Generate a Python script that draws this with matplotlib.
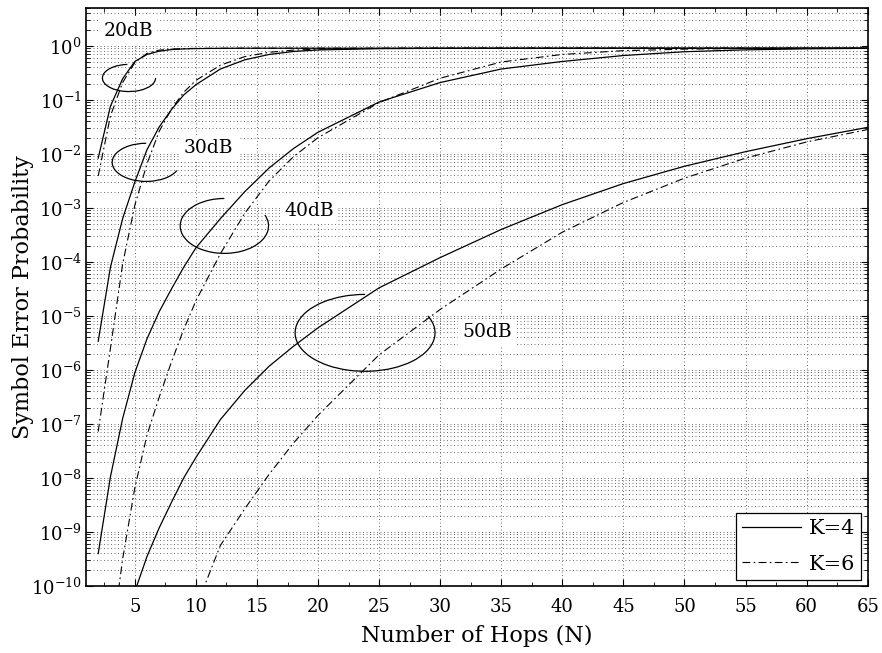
import numpy as np
import matplotlib
matplotlib.use("Agg")
import matplotlib.pyplot as plt
from matplotlib.patches import Arc
from matplotlib.lines import Line2D
from matplotlib.ticker import LogLocator, MultipleLocator, NullFormatter

plt.rcParams["font.family"] = ["DejaVu Serif"]
plt.rcParams["mathtext.fontset"] = "dejavuserif"

nan = np.nan

# number of hops
hops = [2, 3, 4, 5, 6, 7, 8, 9, 10, 12, 14, 16, 18, 20, 25, 30, 35, 40, 45, 50, 55, 60, 65]

# log10 of the symbol error probability (nan = off the plot)
ser_20db_k4 = [-2.08, -1.12, -0.61, -0.29, -0.16, -0.10, -0.07, -0.058, -0.052, -0.047, -0.045, -0.045,
               -0.045, -0.045, -0.045, -0.045, -0.045, -0.045, -0.045, -0.045, -0.045, -0.045, -0.045]
ser_20db_k6 = [-2.41, -1.30, -0.68, -0.31, -0.14, -0.08, -0.06, -0.052, -0.048, -0.046, -0.045, -0.045,
               -0.045, -0.045, -0.045, -0.045, -0.045, -0.045, -0.045, -0.045, -0.045, -0.045, -0.045]
ser_30db_k4 = [-5.47, -4.10, -3.20, -2.52, -1.92, -1.50, -1.18, -0.91, -0.72, -0.43, -0.26, -0.16,
               -0.105, -0.077, -0.053, -0.047, -0.045, -0.045, -0.045, -0.045, -0.045, -0.045, -0.045]
ser_30db_k6 = [-7.14, -5.60, -4.04, -2.95, -2.18, -1.58, -1.17, -0.86, -0.64, -0.36, -0.20, -0.12,
               -0.08, -0.062, -0.048, -0.045, -0.045, -0.045, -0.045, -0.045, -0.045, -0.045, -0.045]
ser_40db_k4 = [-9.40, -7.98, -6.90, -6.05, -5.42, -4.92, -4.50, -4.10, -3.74, -3.20, -2.70, -2.26,
               -1.90, -1.60, -1.04, -0.68, -0.43, -0.29, -0.18, -0.11, -0.075, -0.056, -0.047]
ser_40db_k6 = [-13.5, -11.2, -9.50, -8.18, -7.20, -6.50, -5.85, -5.25, -4.72, -3.85, -3.10, -2.50,
               -2.05, -1.70, -1.05, -0.60, -0.30, -0.16, -0.09, -0.062, -0.05, -0.046, -0.045]
ser_50db_k4 = [nan, nan, -10.9, -10.1, -9.45, -8.92, -8.45, -8.00, -7.62, -6.92, -6.38, -5.93,
               -5.56, -5.22, -4.48, -3.92, -3.40, -2.94, -2.55, -2.23, -1.96, -1.72, -1.51]
ser_50db_k6 = [nan, nan, nan, nan, nan, nan, nan, nan, -10.4, -9.25, -8.57, -7.93,
               -7.35, -6.84, -5.72, -4.88, -4.13, -3.45, -2.90, -2.45, -2.08, -1.78, -1.55]

solid_curves = [ser_20db_k4, ser_30db_k4, ser_40db_k4, ser_50db_k4]
dashdot_curves = [ser_20db_k6, ser_30db_k6, ser_40db_k6, ser_50db_k6]

snr_labels = ["20dB", "30dB", "40dB", "50dB"]
legend_labels = ["K=4", "K=6"]

dashdot = (0, (7, 3, 1.5, 3))

fig = plt.figure(figsize=(8.82, 6.53), dpi=100)
ax = fig.add_axes([0.0975, 0.1026, 0.8863, 0.8851])

for s in solid_curves:
    ax.plot(hops, 10.0 ** np.array(s), color="black", lw=0.9, ls="-")
for s in dashdot_curves:
    ax.plot(hops, 10.0 ** np.array(s), color="black", lw=0.8, ls=dashdot)

ax.set_yscale("log")
ax.set_xlim(1, 65)
ax.set_ylim(1e-10, 5)
ax.xaxis.set_major_locator(MultipleLocator(5))
ax.xaxis.set_minor_locator(MultipleLocator(2.5))
ax.yaxis.set_major_locator(LogLocator(base=10, numticks=20))
ax.yaxis.set_minor_locator(LogLocator(base=10, subs=np.arange(2, 10), numticks=20))
ax.yaxis.set_minor_formatter(NullFormatter())

grid_style = dict(color="0.35", linestyle=(0, (1.2, 3)), linewidth=0.6)
ax.yaxis.grid(True, which="both", **grid_style)
ax.xaxis.grid(True, which="major", **grid_style)
ax.set_axisbelow(True)

ax.tick_params(which="both", direction="in", top=True, right=True, labelsize=13)
ax.tick_params(axis="x", pad=8.5)
ax.tick_params(axis="y", pad=3)
ax.tick_params(which="major", length=5, width=0.8)
ax.tick_params(which="minor", length=3, width=0.6)
for sp in ax.spines.values():
    sp.set_linewidth(1.2)

ax.set_xlabel("Number of Hops (N)", fontsize=16)
ax.set_ylabel("Symbol Error Probability", fontsize=16)
ax.xaxis.set_label_coords(0.5, -0.068)
ax.yaxis.set_label_coords(-0.066, 0.5)

# SNR labels and the open ellipses that group each pair of curves
text_pos = [(0.054, 0.960), (0.157, 0.758), (0.285, 0.649), (0.513, 0.439)]
ellipses = [(0.055, 0.879, 0.068, 0.047, 95, 360),
            (0.077, 0.733, 0.087, 0.066, 90, 340),
            (0.177, 0.623, 0.113, 0.095, 90, 380),
            (0.357, 0.438, 0.179, 0.133, 90, 380)]
for lab, (tx, ty) in zip(snr_labels, text_pos):
    ax.text(tx, ty, lab, transform=ax.transAxes, fontsize=13.5, ha="center", va="center",
            bbox=dict(facecolor="white", edgecolor="none", pad=3))
for (cx, cy, w, h, t1, t2) in ellipses:
    ax.add_patch(Arc((cx, cy), w, h, theta1=t1, theta2=t2, transform=ax.transAxes,
                     color="black", lw=0.9))

handles = [Line2D([], [], color="black", lw=0.9, ls="-"),
           Line2D([], [], color="black", lw=0.8, ls=dashdot)]
leg = ax.legend(handles, legend_labels, loc="lower right", fontsize=15, frameon=True,
                fancybox=False, edgecolor="black", framealpha=1, borderaxespad=0.3,
                handlelength=2.8, handletextpad=0.4, labelspacing=0.8, borderpad=0.3)
leg.get_frame().set_linewidth(0.9)

fig.savefig("out.png", dpi=100)
